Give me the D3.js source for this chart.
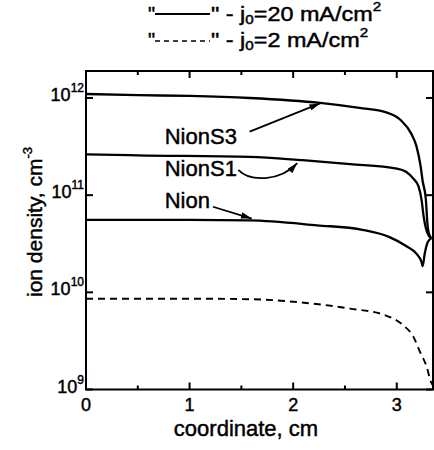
<!DOCTYPE html>
<html>
<head>
<meta charset="utf-8">
<script src="https://cdn.jsdelivr.net/npm/d3@7"></script>
<style>
  body { margin: 0; background: #fff; }
  svg { display: block; font-family: "Liberation Sans", Arial, sans-serif; }
  text { fill: #000; stroke: #000; stroke-width: 0.45px; }
</style>
</head>
<body>
<svg id="chart"></svg>
<script>
// coordinate (cm) and ion density (cm^-3)
const xNionS3 = [0, 0.5, 1.0, 1.58, 2.26, 2.64, 2.90, 3.04, 3.14, 3.19, 3.23, 3.25, 3.28, 3.30, 3.32, 3.335];
const nionS3  = [1.10e12, 1.07e12, 1.05e12, 1.0e12, 8.9e11, 7.9e11, 7.1e11, 5.9e11, 4.3e11, 3.2e11, 2.0e11, 1.4e11, 9.3e10, 4.6e10, 3.8e10, 3.6e10];

const xNionS1 = [0, 0.5, 1.58, 2.09, 2.55, 3.0, 3.09, 3.16, 3.21, 3.24, 3.26, 3.285, 3.31, 3.335];
const nionS1  = [2.63e11, 2.57e11, 2.48e11, 2.29e11, 2.09e11, 1.88e11, 1.74e11, 1.48e11, 1.23e11, 8.9e10, 6.0e10, 4.4e10, 3.8e10, 3.6e10];

const xNion = [0, 1.0, 1.58, 2.23, 2.67, 2.93, 3.09, 3.19, 3.24, 3.25, 3.27, 3.30, 3.335];
const nion  = [5.56e10, 5.56e10, 5.5e10, 4.9e10, 4.4e10, 3.7e10, 3.0e10, 2.5e10, 2.04e10, 1.86e10, 2.5e10, 3.3e10, 3.6e10];

// j0 = 2 mA/cm2 (dashed)
const xNion2 = [0, 1.0, 1.58, 2.06, 2.55, 2.87, 3.06, 3.16, 3.22, 3.29, 3.33, 3.35];
const nion2  = [8.6e9, 8.6e9, 8.5e9, 7.9e9, 6.8e9, 5.9e9, 4.6e9, 3.5e9, 2.5e9, 1.7e9, 1.2e9, 1.1e9];

const xTicks = [0, 1, 2, 3];
const xMinorTicks = [0.5, 1.5, 2.5];
const yTicks = [1e9, 1e10, 1e11, 1e12];
const yTickExp = ["9", "10", "11", "12"];

// annotation labels and arrows, in data units
const labels = [
  { text: "NionS3", x: 0.76, y: 3.4e11 },
  { text: "NionS1", x: 0.76, y: 1.58e11 },
  { text: "Nion",   x: 0.76, y: 7.4e10 }
];
const arrows = [
  { pts: [[1.58, 4.5e11], [2.26, 8.8e11]] },
  { pts: [[1.47, 1.82e11], [1.58, 1.37e11], [1.87, 1.37e11], [2.04, 2.14e11]] },
  { pts: [[1.225, 7.6e10], [1.60, 5.75e10]] }
];

const config = {
  width: 434, height: 450,
  margin: { top: 71, left: 86, right: 1, bottom: 60.5 }
};
const innerW = config.width - config.margin.left - config.margin.right;
const innerH = config.height - config.margin.top - config.margin.bottom;

const svg = d3.select("#chart")
  .attr("width", config.width)
  .attr("height", config.height);

const x = d3.scaleLinear().domain([0, 3.35]).range([0, innerW]);
const y = d3.scaleLog().domain([1e9, Math.pow(10, 12.278)]).range([innerH, 0]);

const g = svg.append("g")
  .attr("transform", `translate(${config.margin.left},${config.margin.top})`);

// curves
const line = d3.line()
  .x(d => x(d[0]))
  .y(d => y(d[1]))
  .curve(d3.curveMonotoneX);

const series = [
  { xs: xNionS3, ys: nionS3, dash: null },
  { xs: xNionS1, ys: nionS1, dash: null },
  { xs: xNion, ys: nion, dash: null },
  { xs: xNion2, ys: nion2, dash: "7,5" }
];

g.selectAll(".curve")
  .data(series)
  .join("path")
  .attr("class", "curve")
  .attr("fill", "none")
  .attr("stroke", "#000")
  .attr("stroke-width", d => d.dash ? 1.9 : 2.3)
  .attr("stroke-dasharray", d => d.dash)
  .attr("d", d => line(d.xs.map((v, i) => [v, d.ys[i]])));

// frame
g.append("rect")
  .attr("width", innerW)
  .attr("height", innerH)
  .attr("fill", "none")
  .attr("stroke", "#000")
  .attr("stroke-width", 2);

// ticks, all pointing inwards
const tickG = g.append("g").attr("stroke", "#000").attr("stroke-width", 2);
const xAll = xTicks.map(v => ({ v, len: 7 })).concat(xMinorTicks.map(v => ({ v, len: 4 })));
tickG.selectAll(".xb").data(xAll).join("line")
  .attr("x1", d => x(d.v)).attr("x2", d => x(d.v))
  .attr("y1", innerH).attr("y2", d => innerH - d.len);
tickG.selectAll(".xt").data(xAll).join("line")
  .attr("x1", d => x(d.v)).attr("x2", d => x(d.v))
  .attr("y1", 0).attr("y2", d => d.len);
tickG.selectAll(".yl").data(yTicks).join("line")
  .attr("x1", 0).attr("x2", 7)
  .attr("y1", d => y(d)).attr("y2", d => y(d));
tickG.selectAll(".yr").data(yTicks).join("line")
  .attr("x1", innerW).attr("x2", innerW - 7)
  .attr("y1", d => y(d)).attr("y2", d => y(d));

// tick labels
g.selectAll(".xlab").data(xTicks).join("text")
  .attr("x", d => x(d))
  .attr("y", innerH + 21.5)
  .attr("text-anchor", "middle")
  .attr("font-size", 18)
  .text(d => d);

const yl = g.selectAll(".ylab").data(yTicks).join("text")
  .attr("x", -2)
  .attr("y", d => y(d) + 3)
  .attr("text-anchor", "end")
  .attr("font-size", 18);
yl.append("tspan").text("10");
yl.append("tspan").attr("font-size", 12).attr("dy", -9).text((d, i) => yTickExp[i]);

// axis titles
svg.append("text")
  .attr("x", 246)
  .attr("y", 436)
  .attr("text-anchor", "middle")
  .attr("font-size", 22)
  .text("coordinate, cm");

const yt = svg.append("text")
  .attr("transform", "translate(42,297) rotate(-90)")
  .attr("font-size", 21);
yt.append("tspan").text("ion density, cm");
yt.append("tspan").attr("font-size", 13).attr("dy", -10).text("-3");

// annotations
svg.append("defs").append("marker")
  .attr("id", "head")
  .attr("viewBox", "0 0 10 6")
  .attr("refX", 10).attr("refY", 3)
  .attr("markerWidth", 11).attr("markerHeight", 6.5)
  .attr("markerUnits", "userSpaceOnUse")
  .attr("orient", "auto")
  .append("path").attr("d", "M0,0L10,3L0,6Z").attr("fill", "#000");

g.selectAll(".lab").data(labels).join("text")
  .attr("x", d => x(d.x))
  .attr("y", d => y(d.y))
  .attr("font-size", 22)
  .text(d => d.text);

const arrowPath = d => {
  const p = d.pts.map(q => [x(q[0]), y(q[1])]);
  if (p.length === 2) return `M${p[0]}L${p[1]}`;
  return `M${p[0]}C${p[1]} ${p[2]} ${p[3]}`;
};
g.selectAll(".arrow").data(arrows).join("path")
  .attr("fill", "none")
  .attr("stroke", "#000")
  .attr("stroke-width", 1.8)
  .attr("marker-end", "url(#head)")
  .attr("d", arrowPath);

// legend
const legend = [
  { dash: null, value: "20", baseline: 21, lineY: 14 },
  { dash: "5,4", value: "2", baseline: 47, lineY: 41 }
];
const lg = svg.selectAll(".leg").data(legend).join("g");
lg.append("text")
  .attr("x", 148).attr("y", d => d.baseline)
  .attr("font-size", 20)
  .text("\"");
lg.append("line")
  .attr("x1", 155).attr("x2", 210)
  .attr("y1", d => d.lineY).attr("y2", d => d.lineY)
  .attr("stroke", "#000")
  .attr("stroke-width", d => d.dash ? 1.6 : 2)
  .attr("stroke-dasharray", d => d.dash);
const lt = lg.append("text")
  .attr("transform", d => `translate(211,${d.baseline}) scale(1.17,1)`)
  .attr("font-size", 20);
lt.append("tspan").text("\" - j");
lt.append("tspan").attr("font-size", 13).attr("dy", 3).text("0");
lt.append("tspan").attr("dy", -3).text(d => `=${d.value} mA/cm`);
lt.append("tspan").attr("font-size", 13).attr("dy", -10).text("2");
</script>
</body>
</html>
